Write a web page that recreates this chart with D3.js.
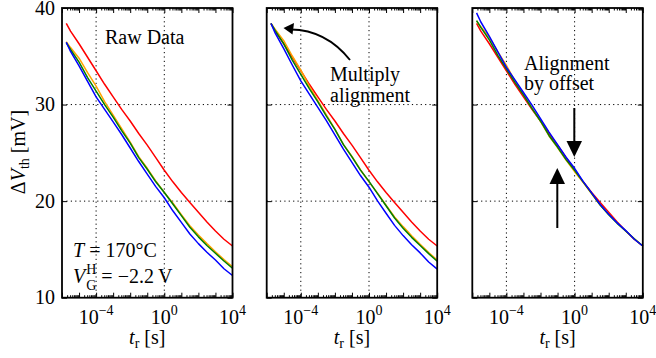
<!DOCTYPE html>
<html><head><meta charset="utf-8">
<script src="https://cdn.jsdelivr.net/npm/d3@7"></script>
</head><body style="margin:0">
<svg id="c" width="656" height="358" font-family="Liberation Serif"></svg>
<script>
// ---------- data ----------
const times = [1.78e-6, 3.16e-6, 1e-5, 3.16e-5, 1e-4, 3.16e-4, 1e-3, 3.16e-3, 1e-2, 3.16e-2, 0.1, 0.316, 1, 3.16, 10, 31.6, 100, 316, 1000, 3160, 1e4];

const rawRed    = [38.4, 37.6, 36.3, 34.9, 33.5, 32.1, 30.8, 29.5, 28.3, 27.0, 25.8, 24.5, 23.2, 22.0, 20.9, 19.85, 18.85, 17.85, 16.9, 16.05, 15.35];
const rawOrange = [36.5, 35.9, 34.8, 33.3, 31.9, 30.3, 28.9, 27.5, 26.1, 24.6, 23.4, 22.1, 20.9, 19.8, 18.6, 17.45, 16.5, 15.6, 14.75, 13.95, 13.2];
const rawGreen  = [36.4, 35.7, 34.4, 32.8, 31.4, 30.0, 28.7, 27.3, 26.0, 24.5, 23.3, 22.0, 20.9, 19.7, 18.5, 17.3, 16.3, 15.4, 14.6, 13.8, 13.05];
const rawBlue   = [36.45, 35.5, 34.0, 32.4, 30.8, 29.5, 28.2, 26.9, 25.5, 24.1, 22.8, 21.5, 20.35, 19.0, 17.8, 16.6, 15.6, 14.7, 13.9, 13.0, 12.3];

const mulRed    = [38.4, 37.6, 36.3, 34.9, 33.5, 32.1, 30.8, 29.5, 28.3, 27.0, 25.8, 24.5, 23.2, 22.0, 20.9, 19.85, 18.85, 17.85, 16.9, 16.05, 15.35];
const mulOrange = [38.4, 37.77, 36.61, 35.03, 33.56, 31.88, 30.4, 28.93, 27.46, 25.88, 24.62, 23.25, 21.99, 20.83, 19.57, 18.36, 17.36, 16.41, 15.52, 14.68, 13.89];
const mulGreen  = [38.4, 37.66, 36.29, 34.6, 33.13, 31.65, 30.28, 28.8, 27.43, 25.85, 24.58, 23.21, 22.05, 20.78, 19.52, 18.25, 17.2, 16.25, 15.4, 14.56, 13.77];
const mulBlue   = [38.4, 37.4, 35.8, 34.1, 32.45, 31.08, 29.71, 28.34, 26.86, 25.39, 24.02, 22.65, 21.44, 20.02, 18.75, 17.49, 16.43, 15.49, 14.64, 13.7, 12.96];

const offRed    = [38.4, 37.6, 36.3, 34.9, 33.5, 32.1, 30.8, 29.5, 28.3, 27.0, 25.8, 24.5, 23.2, 22.0, 20.9, 19.85, 18.85, 17.85, 16.9, 16.05, 15.35];
const offOrange = [38.65, 38.05, 36.95, 35.45, 34.05, 32.45, 31.05, 29.65, 28.25, 26.75, 25.55, 24.25, 23.05, 21.95, 20.75, 19.6, 18.65, 17.75, 16.9, 16.1, 15.35];
const offGreen  = [38.7, 38.0, 36.7, 35.1, 33.7, 32.3, 31.0, 29.6, 28.3, 26.8, 25.6, 24.3, 23.2, 22.0, 20.8, 19.6, 18.6, 17.7, 16.9, 16.1, 15.35];
const offBlue   = [39.5, 38.55, 37.05, 35.45, 33.85, 32.55, 31.25, 29.95, 28.55, 27.15, 25.85, 24.55, 23.4, 22.05, 20.85, 19.65, 18.65, 17.75, 16.95, 16.05, 15.35];

const seriesColors = ["#ff0000", "#ffa500", "#008000", "#0000ff"];
const xLabelExps = [-4, 0, 4];
const yTicks = [10, 20, 30, 40];
const xGrid = [1e-4, 1];
const yGrid = [20, 30];

const panels = [
  [rawRed, rawOrange, rawGreen, rawBlue],
  [mulRed, mulOrange, mulGreen, mulBlue],
  [offRed, offOrange, offGreen, offBlue]
];

// ---------- layout ----------
const svg = d3.select("#c");
const plotTop = 8, plotBottom = 297.7;
const pw = 170.5;
const lefts = [62, 266.7, 472.3];
const FS = 20;

const y = d3.scaleLinear().domain([10, 40]).range([plotBottom, plotTop]);

const majorDecades = d3.range(-6, 5).map(e => Math.pow(10, e));
const minorVals = [];
for (let e = -6; e < 4; e++) for (let k = 2; k <= 9; k++) minorVals.push(k * Math.pow(10, e));

function txt(parent, xp, yp) {
  return parent.append("text").attr("x", xp).attr("y", yp).attr("font-size", FS)
    .style("font-family", "'Liberation Serif'");
}

panels.forEach((series, pi) => {
  const L = lefts[pi];
  const x = d3.scaleLog().domain([1e-6, 1e4]).range([L, L + pw]);
  const g = svg.append("g");

  // grid
  xGrid.forEach(v => g.append("line").attr("x1", x(v)).attr("x2", x(v)).attr("y1", plotTop).attr("y2", plotBottom)
    .attr("stroke", "#000").attr("stroke-width", 1).attr("stroke-dasharray", "1.2,3.2"));
  yGrid.forEach(v => g.append("line").attr("x1", L).attr("x2", L + pw).attr("y1", y(v)).attr("y2", y(v))
    .attr("stroke", "#000").attr("stroke-width", 1).attr("stroke-dasharray", "1.2,3.2"));

  // curves
  const line = d3.line().x((d, i) => x(times[i])).y(d => y(d));
  series.forEach((vals, si) => {
    g.append("path").datum(vals).attr("d", line).attr("fill", "none")
      .attr("stroke", seriesColors[si]).attr("stroke-width", 1.5).attr("stroke-linejoin", "round");
  });

  // axes (ticks inward); strip d3's default sans-serif font attributes
  const mk = (axis, tx, ty, vals, size) => {
    const a = g.append("g").attr("transform", `translate(${tx},${ty})`)
      .call(axis.tickValues(vals).tickSize(-size).tickSizeOuter(0).tickFormat(""));
    a.attr("font-family", null).attr("font-size", null).attr("text-anchor", null);
    a.select(".domain").remove();
    a.selectAll("text").remove();
    a.selectAll("line").attr("stroke", "#000").attr("stroke-width", 1);
  };
  mk(d3.axisBottom(x), 0, plotBottom, majorDecades, 5);
  mk(d3.axisBottom(x), 0, plotBottom, minorVals, 2.5);
  mk(d3.axisTop(x), 0, plotTop, majorDecades, 5);
  mk(d3.axisTop(x), 0, plotTop, minorVals, 2.5);
  mk(d3.axisLeft(y), L, 0, yTicks, 5);
  mk(d3.axisRight(y), L + pw, 0, yTicks, 5);

  // frame
  g.append("rect").attr("x", L).attr("y", plotTop).attr("width", pw).attr("height", plotBottom - plotTop)
    .attr("fill", "none").attr("stroke", "#000").attr("stroke-width", 1.8);

  // x tick labels
  xLabelExps.forEach(e => {
    const t = txt(g, x(Math.pow(10, e)), 323.5).attr("text-anchor", "middle");
    t.append("tspan").text("10");
    t.append("tspan").attr("dy", -9).attr("font-size", 14).text(e < 0 ? "\u2212" + (-e) : String(e));
  });

  // x axis title
  const xt = txt(g, L + pw / 2, 343.5).attr("text-anchor", "middle");
  xt.append("tspan").attr("font-style", "italic").text("t");
  xt.append("tspan").attr("dy", 4).attr("font-size", 14).text("r");
  xt.append("tspan").attr("dy", -4).text(" [s]");

  // y labels only first panel
  if (pi === 0) {
    yTicks.forEach(v => txt(g, 55, y(v) + 6.5).attr("text-anchor", "end").text(v));
  }
});

// y axis title
const yt = txt(svg, 0, 0).attr("transform", "translate(25,152) rotate(-90)").attr("text-anchor", "middle");
yt.append("tspan").text("\u0394");
yt.append("tspan").attr("font-style", "italic").text("V");
yt.append("tspan").attr("dy", 4).attr("font-size", 14).text("th");
yt.append("tspan").attr("dy", -4).text(" [mV]");

// ---------- annotations ----------
txt(svg, 105, 43.5).text("Raw Data");

const tl = txt(svg, 73, 257);
tl.append("tspan").attr("font-style", "italic").text("T");
tl.append("tspan").text(" = 170\u00B0C");

const vl = txt(svg, 73, 283);
vl.append("tspan").attr("font-style", "italic").text("V");
vl.append("tspan").attr("dx", 1).attr("dy", -9).attr("font-size", 14).text("H");
vl.append("tspan").attr("dx", -10.1).attr("dy", 16).attr("font-size", 14).text("G");
vl.append("tspan").attr("dy", -7).text(" = \u22122.2\u2009V");

txt(svg, 330, 81).text("Multiply");
txt(svg, 330, 101.5).text("alignment");

txt(svg, 524, 69.5).text("Alignment");
txt(svg, 524, 90).text("by offset");

// curved arrow in panel 2
svg.append("path").attr("d", "M350,60 Q326,30 291,29.5").attr("fill", "none").attr("stroke", "#000").attr("stroke-width", 2);
svg.append("path").attr("d", "M283.5,28 L294,23 L292.5,34.5 Z").attr("fill", "#000");

// straight arrows in panel 3
svg.append("line").attr("x1", 574.3).attr("x2", 574.3).attr("y1", 108).attr("y2", 145).attr("stroke", "#000").attr("stroke-width", 2);
svg.append("path").attr("d", "M566.5,141 L582,141 L574.3,157 Z").attr("fill", "#000");
svg.append("line").attr("x1", 557.3).attr("x2", 557.3).attr("y1", 228).attr("y2", 180).attr("stroke", "#000").attr("stroke-width", 2);
svg.append("path").attr("d", "M549.5,184 L565,184 L557.3,168 Z").attr("fill", "#000");
</script>
</body></html>
